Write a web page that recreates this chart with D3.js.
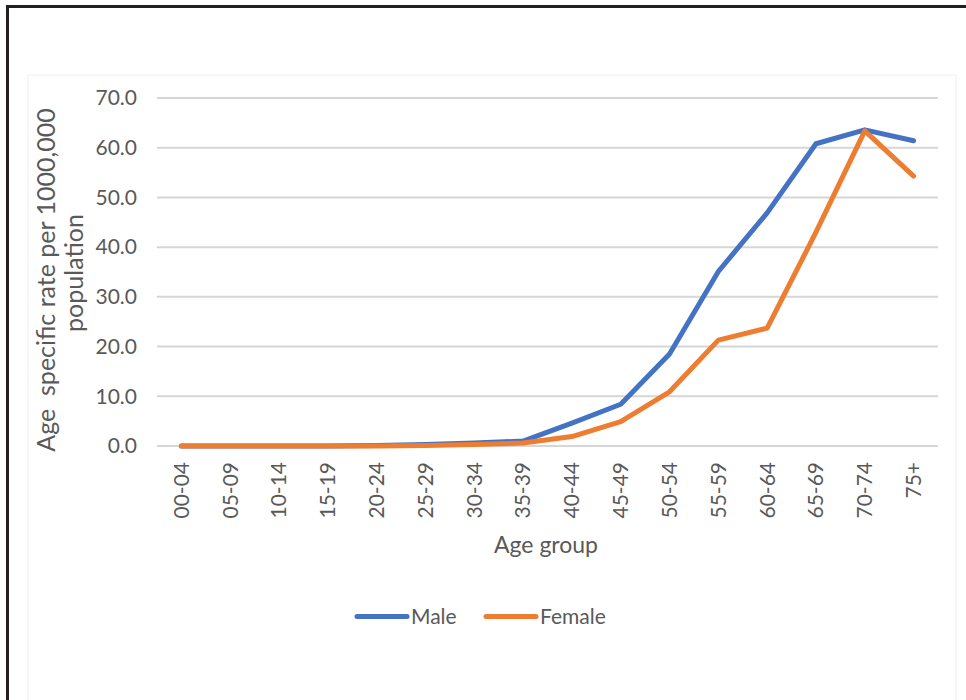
<!DOCTYPE html>
<html>
<head>
<meta charset="utf-8">
<script src="https://cdn.jsdelivr.net/npm/d3@7"></script>
<style>
  html, body { margin: 0; padding: 0; background: #fff; }
  svg { display: block; }
  text { font-family: Lato, "Open Sans", sans-serif; fill: #595959; }
</style>
</head>
<body>
<svg id="chart" width="966" height="700"></svg>
<script>
const categories = ["00-04","05-09","10-14","15-19","20-24","25-29","30-34","35-39","40-44","45-49","50-54","55-59","60-64","65-69","70-74","75+"];
const maleValues   = [0.0, 0.0, 0.0, 0.0, 0.1, 0.3, 0.6, 1.0, 4.6, 8.4, 18.5, 35.1, 46.9, 60.8, 63.6, 61.4];
const femaleValues = [0.0, 0.0, 0.0, 0.0, 0.0, 0.1, 0.3, 0.6, 1.9, 4.9, 10.9, 21.3, 23.7, 43.0, 63.4, 54.3];
const yTicks = [0, 10, 20, 30, 40, 50, 60, 70];
const seriesNames = ["Male", "Female"];
const seriesColors = ["#4472C4", "#ED7D31"];

const svg = d3.select("#chart");

// outer frame (left and top edges visible)
svg.append("path")
  .attr("d", "M7.5,700 L7.5,6.5 L966,6.5")
  .attr("fill", "none").attr("stroke", "#231f20").attr("stroke-width", 3);

// faint chart-area outline
svg.append("rect")
  .attr("x", 28).attr("y", 75).attr("width", 928).attr("height", 640)
  .attr("fill", "none").attr("stroke", "#f5f5f5").attr("stroke-width", 1.5);

const x0 = 157, x1 = 938, yTop = 98, yBottom = 446;

const x = d3.scaleBand().domain(categories).range([x0, x1]).padding(0);
const y = d3.scaleLinear().domain([0, 70]).range([yBottom, yTop]);

// gridlines
svg.append("g").selectAll("line").data(yTicks).join("line")
  .attr("x1", x0).attr("x2", x1)
  .attr("y1", d => y(d)).attr("y2", d => y(d))
  .attr("stroke", "#d6d6d6").attr("stroke-width", 2);

// y tick labels
const yAxis = d3.axisLeft(y).tickValues(yTicks).tickFormat(d3.format(".1f")).tickSize(0).tickPadding(0);
const gy = svg.append("g").attr("transform", `translate(137,0)`).call(yAxis);
gy.select(".domain").remove();
gy.selectAll("text").attr("font-size", 21).attr("fill", "#595959")
  .style("font-family", "Lato, 'Open Sans', sans-serif");

// x tick labels
const xAxis = d3.axisBottom(x).tickSize(0).tickPadding(0);
const gx = svg.append("g").attr("transform", `translate(0,462)`).call(xAxis);
gx.select(".domain").remove();
gx.selectAll("text")
  .attr("font-size", 21).attr("fill", "#595959")
  .style("font-family", "Lato, 'Open Sans', sans-serif")
  .attr("transform", "rotate(-90)")
  .attr("x", 0).attr("y", 0).attr("dy", "0.35em")
  .attr("text-anchor", "end");

// axis titles
svg.append("text")
  .attr("x", 546).attr("y", 553)
  .attr("text-anchor", "middle").attr("font-size", 23)
  .text("Age group");

svg.append("text")
  .attr("transform", "translate(46,280) rotate(-90)")
  .attr("text-anchor", "middle").attr("dy", "0.35em").attr("font-size", 25)
  .attr("xml:space", "preserve").style("white-space", "pre")
  .text("Age  specific rate per 1000,000");
svg.append("text")
  .attr("transform", "translate(74,273) rotate(-90)")
  .attr("text-anchor", "middle").attr("dy", "0.35em").attr("font-size", 25)
  .text("population");

// lines
const line = d3.line()
  .x((d, i) => x(categories[i]) + x.bandwidth() / 2)
  .y(d => y(d));

[maleValues, femaleValues].forEach((vals, k) => {
  svg.append("path")
    .datum(vals)
    .attr("d", line)
    .attr("fill", "none")
    .attr("stroke", seriesColors[k])
    .attr("stroke-width", 5)
    .attr("stroke-linejoin", "round")
    .attr("stroke-linecap", "round");
});

// legend
const legendItems = [{x: 357, tx: 411}, {x: 486, tx: 540}];
seriesNames.forEach((name, k) => {
  const g = svg.append("g");
  g.append("line")
    .attr("x1", legendItems[k].x).attr("x2", legendItems[k].x + 50)
    .attr("y1", 616.5).attr("y2", 616.5)
    .attr("stroke", seriesColors[k]).attr("stroke-width", 5)
    .attr("stroke-linecap", "round");
  g.append("text")
    .attr("x", legendItems[k].tx).attr("y", 616.5).attr("dy", "0.35em")
    .attr("font-size", 21)
    .text(name);
});
</script>
</body>
</html>
